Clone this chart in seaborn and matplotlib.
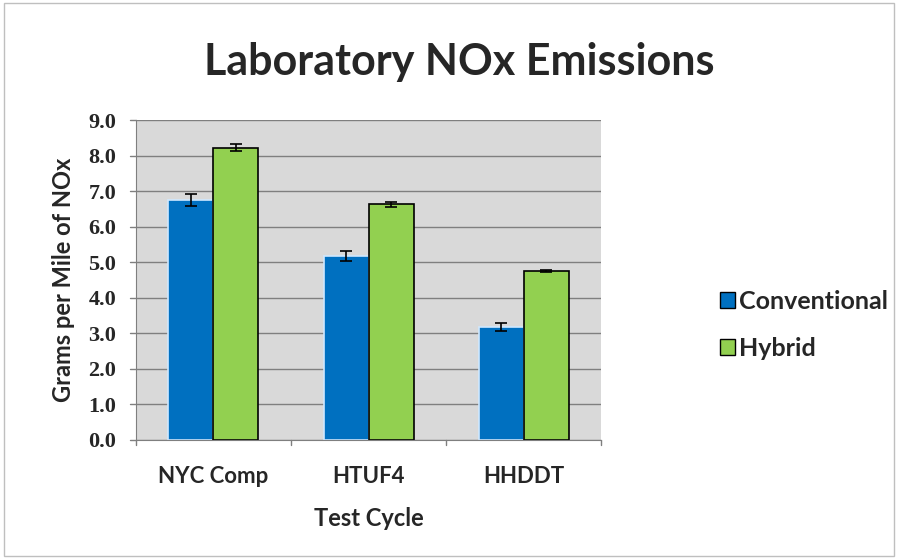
import matplotlib
matplotlib.use("Agg")
import matplotlib.pyplot as plt
import seaborn as sns
import pandas as pd
from matplotlib.patches import Rectangle

cycles = ["NYC Comp", "HTUF4", "HHDDT"]
conventional = [6.75, 5.18, 3.18]
conventional_err = [0.16, 0.13, 0.10]
hybrid = [8.22, 6.63, 4.75]
hybrid_err = [0.10, 0.06, 0.02]

df = pd.DataFrame({
    "cycle": cycles * 2,
    "series": ["Conventional"] * 3 + ["Hybrid"] * 3,
    "value": conventional + hybrid,
    "err": conventional_err + hybrid_err,
})

sns.set_style("white")
plt.rcParams["font.family"] = ["Lato", "DejaVu Sans"]

fig = plt.figure(figsize=(8.99, 5.59), dpi=100)
ax = fig.add_axes([0.151, 0.213, 0.518, 0.572])
ax.set_facecolor("#d9d9d9")

sns.barplot(data=df, x="cycle", y="value", hue="series",
            palette=["#0070c0", "#92d050"], width=0.58,
            errorbar=None, ax=ax, saturation=1)

# edges: blue bars with light edge, green bars black edge
for bars, ec in zip(ax.containers, ["#cfe8ff", "black"]):
    for p in bars:
        p.set_edgecolor(ec)
        p.set_linewidth(1.2)

# error bars
for bars, s in zip(ax.containers, ["Conventional", "Hybrid"]):
    sub = df[df["series"] == s]
    xs = [p.get_x() + p.get_width() / 2 for p in bars]
    ax.errorbar(xs, sub["value"], yerr=sub["err"], fmt="none",
                ecolor="black", elinewidth=1.2, capsize=4, capthick=1.2, zorder=5)

ax.set_ylim(0, 9)
ax.set_yticks([i for i in range(10)])
ax.set_yticklabels([f"{i:.1f}" for i in range(10)], fontsize=16, fontweight="bold",
                   family=["Liberation Serif", "DejaVu Serif"])
ax.yaxis.grid(True, color="#7f7f7f", linewidth=1)
ax.set_axisbelow(True)
ax.set_xlim(-0.5, 2.5)
ax.set_xticks([0, 1, 2])
ax.set_xticklabels(cycles, fontsize=16, fontweight="bold")
ax.tick_params(axis="y", length=0, pad=14)
ax.tick_params(axis="x", length=0, pad=19)
for x in [-0.5, 0.5, 1.5, 2.5]:
    ax.plot([x, x], [0, -0.15], color="#7f7f7f", lw=1, clip_on=False)
for y in range(10):
    ax.plot([-0.5, -0.54], [y, y], color="#7f7f7f", lw=1, clip_on=False)

for side in ["top", "right"]:
    ax.spines[side].set_visible(False)
ax.spines["left"].set_color("#7f7f7f")
ax.spines["bottom"].set_color("#7f7f7f")

ax.set_xlabel("Test Cycle", fontsize=17, fontweight="bold", labelpad=14)
ax.set_ylabel("Grams per Mile of NOx", fontsize=17, fontweight="bold", labelpad=10)

fig.text(0.511, 0.889, "Laboratory NOx Emissions", ha="center", va="center",
         fontsize=31, fontweight="bold")

leg = ax.legend(loc="center left", bbox_to_anchor=(0.801, 0.419),
                bbox_transform=fig.transFigure, frameon=False, borderpad=0,
                borderaxespad=0, fontsize=18, handlelength=0.6, handleheight=0.6,
                handletextpad=0.15, labelspacing=0.95)
for t in leg.get_texts():
    t.set_fontweight("bold")
for h in leg.legend_handles:
    h.set_edgecolor("black")

fig.patches.append(Rectangle((0.004, 0.006), 0.99, 0.988, transform=fig.transFigure,
                             fill=False, edgecolor="#bfbfbf", lw=1))

fig.savefig("out.png", dpi=100, facecolor="white")
